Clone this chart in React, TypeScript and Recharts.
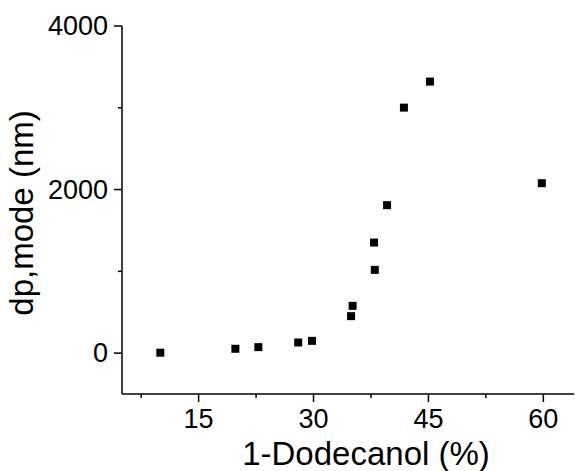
import { Label, Scatter, ScatterChart, XAxis, YAxis, ZAxis } from "recharts";
import { type JSX } from "react";

// 1-dodecanol content (%) and modal droplet size (nm)
const dodecanol = [10, 19.8, 22.8, 28, 29.8, 34.9, 35.1, 37.9, 38.0, 39.6, 41.8, 45.2, 59.8];
const dpMode = [5, 53, 73, 130, 150, 452, 578, 1352, 1018, 1809, 3002, 3320, 2078];

const xTicks = [7.5, 15, 22.5, 30, 37.5, 45, 52.5, 60];
const xLabeled = [15, 30, 45, 60];
const yTicks = [0, 1000, 2000, 3000, 4000];
const yLabeled = [0, 2000, 4000];

const FONT = "'Liberation Sans', Arial, sans-serif";

const points = dodecanol.map((x, i) => ({ x, y: dpMode[i] }));

const YTick = ({ x, y, payload }: any) => {
  const major = yLabeled.includes(payload.value);
  return (
    <g>
      <line x1={x - (major ? 8 : 4)} x2={x} y1={y} y2={y} stroke="#000" strokeWidth={1.5} />
      {major && (
        <text
          x={x - 14}
          y={y}
          textAnchor="end"
          dominantBaseline="central"
          fontSize={27}
          fontFamily={FONT}
          fill="#000"
        >
          {payload.value}
        </text>
      )}
    </g>
  );
};

const XTick = ({ x, y, payload }: any) => {
  const major = xLabeled.includes(payload.value);
  return (
    <g>
      <line x1={x} x2={x} y1={y} y2={y + (major ? 8 : 4)} stroke="#000" strokeWidth={1.5} />
      {major && (
        <text x={x} y={y + 34} textAnchor="middle" fontSize={27} fontFamily={FONT} fill="#000">
          {payload.value}
        </text>
      )}
    </g>
  );
};

const App = (): JSX.Element => {
  return (
    <div style={{ position: "absolute", left: 0, top: 0, background: "#fff" }}>
      <ScatterChart
        width={575}
        height={471}
        margin={{ top: 26, right: 1, bottom: 0, left: 0 }}
      >
        <XAxis
          type="number"
          dataKey="x"
          domain={[5, 64]}
          allowDataOverflow
          ticks={xTicks}
          interval={0}
          height={77}
          tickSize={0}
          tickMargin={0}
          tickLine={false}
          tick={<XTick />}
          axisLine={{ stroke: "#000", strokeWidth: 1.5 }}
        >
          <Label
            content={({ viewBox }: any) => (
              <text
                x={viewBox.x + viewBox.width / 2 + 18}
                y={viewBox.y + 71}
                textAnchor="middle"
                fontSize={33}
                fontFamily={FONT}
                fill="#000"
              >
                1-Dodecanol (%)
              </text>
            )}
          />
        </XAxis>
        <YAxis
          type="number"
          dataKey="y"
          domain={[-500, 4000]}
          allowDataOverflow
          ticks={yTicks}
          interval={0}
          width={122}
          tickSize={0}
          tickMargin={0}
          tickLine={false}
          tick={<YTick />}
          axisLine={{ stroke: "#000", strokeWidth: 1.5 }}
        >
          <Label
            content={({ viewBox }: any) => {
              const cx = 33;
              const cy = viewBox.y + viewBox.height / 2 + 3;
              return (
                <text
                  x={cx}
                  y={cy}
                  transform={`rotate(-90, ${cx}, ${cy})`}
                  textAnchor="middle"
                  fontSize={33}
                  fontFamily={FONT}
                  fill="#000"
                >
                  dp,mode (nm)
                </text>
              );
            }}
          />
        </YAxis>
        <ZAxis range={[64, 64]} />
        <Scatter data={points} shape="square" fill="#000" isAnimationActive={false} />
      </ScatterChart>
    </div>
  );
};

export default App;
